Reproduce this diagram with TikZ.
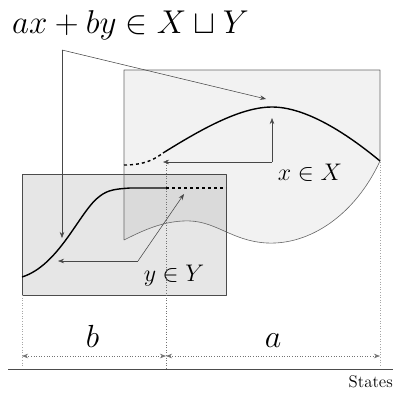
\documentclass[tikz,border=0pt]{standalone}
\usepackage{amsmath,amssymb}
\usepackage{graphicx}
\usetikzlibrary{arrows.meta}
\definecolor{fillX}{HTML}{F4F4F4}
\definecolor{fillY}{HTML}{E6E6E6}
\begin{document}
\begin{tikzpicture}[line join=round,>={Stealth[length=6pt,width=4.5pt]},x=1pt,y=-1pt,
    thread/.style={draw=black!72,line width=.55pt},
    curv/.style={line width=1.4pt},
    guide/.style={dotted,draw=black!35,line width=.6pt}]
            \useasboundingbox (0,0) rectangle (396,392);
            % the set Y
            \draw[fill=fillY,draw=black!70,line width=.9pt] (22,174) rectangle (226,295);
            % the set X
            \draw[fill=black,fill opacity=.05,draw=black!60,line width=.6pt]
                (124,240)--(124,70)--(380,70)--(380,161)
                .. controls (355,215) and (310,245) .. (267,243)
                .. controls (230,241) and (215,219) .. (183,221)
                .. controls (160,222) and (140,232) .. (124,240);
            % curves
            \draw[curv,dashed] (124,165) .. controls (145,165) and (155,159) .. (163,153);
            \draw[curv] (163,153) .. controls (200,130) and (240,107) .. (272,107)
                .. controls (305,107) and (345,132) .. (380,161);
            \draw[curv] (22,277) .. controls (60,265) and (80,210) .. (100,196)
                .. controls (108,190) and (115,189) .. (130,188)--(166,188);
            \draw[curv,dashed] (166,188)--(226,188);
            % labels
            \node[anchor=base west,inner sep=0] (title) at (12,33) {\scalebox{1.326}{\Huge $ax+by\in X\sqcup Y$}};
            \node[anchor=base] (lblX) at (310,180) {\scalebox{1.157}{\huge $x\in X$}};
            \node[anchor=base] (lblY) at (174,281) {\scalebox{1.157}{\huge $y\in Y$}};
            \node[anchor=base,inner sep=0] (lblB) at (92.5,347) {\scalebox{1.286}{\Huge $b$}};
            \node[anchor=base,inner sep=0] (lblA) at (273,347) {\scalebox{1.286}{\Huge $a$}};
            \node[anchor=base east,inner sep=0] (states) at (393,387) {\scalebox{1.17}{\Large States}};
            % connectors
            \coordinate (hub) at (62,50);
            \coordinate (hubX) at (266,99);
            \coordinate (hubY) at (62,238);
            \coordinate (elbX) at (272,162);
            \coordinate (tipXa) at (272,118);
            \coordinate (tipXb) at (163,162);
            \coordinate (elbY) at (138,261);
            \coordinate (tipYa) at (184,194);
            \coordinate (tipYb) at (58,261);
            \draw[thread,->] (hub)--(hubX);
            \draw[thread,->] (hub)--(hubY);
            \draw[thread,->] (elbX)--(tipXa);
            \draw[thread,->] (elbX)--(tipXb);
            \draw[thread,->] (elbY)--(tipYa);
            \draw[thread,->] (elbY)--(tipYb);
            % guides
            \draw[guide] (22,295)--(22,366);
            \draw[guide] (380,162)--(380,366);
            \draw[guide,draw=black!55] (166,160)--(166,369);
            \coordinate (dimL) at (22,356);
            \coordinate (dimM) at (166,356);
            \coordinate (dimR) at (380,356);
            \draw[guide,draw=black!55,<->] (dimL)--(dimM);
            \draw[guide,draw=black!55,<->] (dimM)--(dimR);
            \draw[draw=black!70,line width=1pt] (8,369)--(393,369);
        \end{tikzpicture}
\end{document}
